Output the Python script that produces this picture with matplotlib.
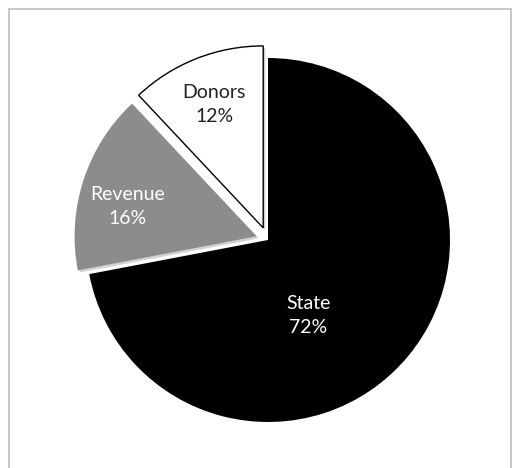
import numpy as np
import matplotlib
matplotlib.use('Agg')
import matplotlib.pyplot as plt
import matplotlib.patheffects as pe
from matplotlib.patches import Rectangle

# Datos del grafico
categorias = ['Donors', 'Revenue', 'State']
porcentajes = [12, 16, 72]
colores = ['#ffffff', '#8c8c8c', '#000000']
colores_texto = ['#222222', '#ffffff', '#ffffff']
separacion = [13, 12, 0]  # en pixeles (unidades de datos)

plt.rcParams['font.family'] = ['Lato', 'DejaVu Sans']

fig = plt.figure(figsize=(5.14, 4.68), dpi=100)
ax = fig.add_axes([0, 0, 1, 1])

# Marco gris del area del grafico
fig.patches.append(Rectangle((9 / 514, -0.1), 502 / 514, (468 - 9) / 468 + 0.1,
                             transform=fig.transFigure, fill=False,
                             edgecolor='#bdbdbd', linewidth=1.2))

centro = (268, 468 - 240)
radio = 182

wedges, _ = ax.pie(porcentajes, colors=colores, startangle=90, counterclock=True,
                   explode=separacion, center=centro, radius=radio,
                   wedgeprops=dict(edgecolor='none', linewidth=0),
                   frame=True)
ax.set_xlim(0, 514)
ax.set_ylim(0, 468)
ax.set_aspect('equal')
ax.axis('off')

# Borde negro de la porcion blanca
wedges[0].set_edgecolor('#000000')
wedges[0].set_linewidth(1.0)

# Sombra suave de las porciones separadas
for w in wedges[:2]:
    w.set_path_effects([pe.SimplePatchShadow(offset=(1.5, -1.5), shadow_rgbFace='#808080', alpha=0.35),
                        pe.Normal()])

# Etiquetas dentro de cada porcion (angulo y distancia relativa al radio)
angulos_etiqueta = [(wedges[0].theta1 + wedges[0].theta2) / 2, 167, 298]
distancias = [0.73, 0.725, 0.47]

for i, w in enumerate(wedges):
    ang = np.deg2rad(angulos_etiqueta[i])
    cx, cy = w.center
    x = cx + distancias[i] * w.r * np.cos(ang)
    y = cy + distancias[i] * w.r * np.sin(ang)
    ax.text(x, y, f'{categorias[i]}\n{porcentajes[i]}%', ha='center', va='center',
            fontsize=14, color=colores_texto[i], linespacing=1.45)

fig.savefig('out.png', dpi=100)
